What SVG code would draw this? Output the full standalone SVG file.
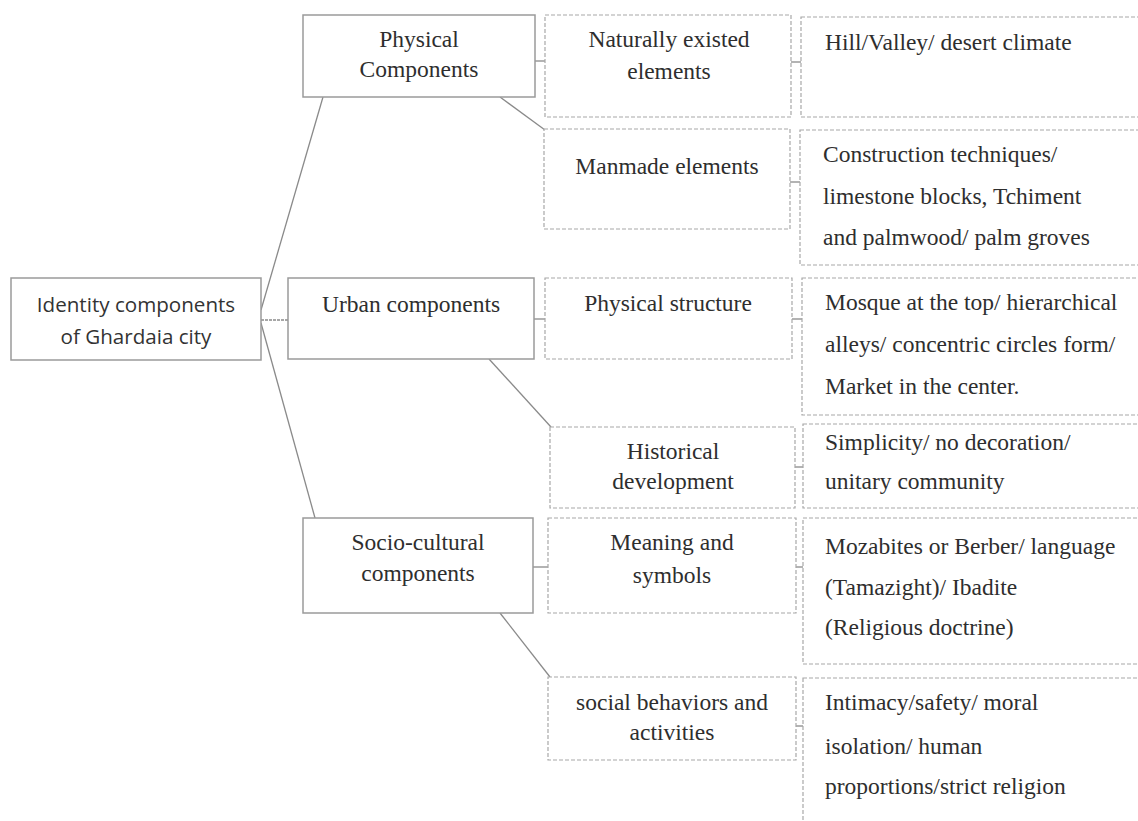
<svg xmlns="http://www.w3.org/2000/svg" width="1138" height="821" viewBox="0 0 1138 821">
<style>
.solid{fill:#fff;stroke:#9a9a9a;stroke-width:1.5}
.dash{fill:#fff;stroke:#a8a8a8;stroke-width:1.2;stroke-dasharray:4 2}
.conn line{stroke:#8a8a8a;stroke-width:1.3}
.serif{font-family:"Liberation Serif","Times New Roman",serif;font-size:23.5px;fill:#2e2e2e}
.sans{font-family:"Open Sans","Liberation Sans",sans-serif;font-size:20.6px;fill:#333}
.c{text-anchor:middle}
</style>
<rect width="1138" height="821" fill="#fff"/>
<g id="connectors" class="conn">
<line x1="261" y1="310" x2="323" y2="97"/>
<line x1="261" y1="320" x2="288" y2="320" stroke-dasharray="3 1"/>
<line x1="261" y1="323" x2="315" y2="518"/>
<line x1="535" y1="61" x2="545" y2="61"/>
<line x1="500" y1="97" x2="545" y2="130"/>
<line x1="791" y1="62" x2="801" y2="62"/>
<line x1="790" y1="182" x2="800" y2="182"/>
<line x1="534" y1="319" x2="545" y2="319"/>
<line x1="792" y1="319" x2="802" y2="319"/>
<line x1="489" y1="359" x2="551" y2="427"/>
<line x1="795" y1="467" x2="803" y2="467"/>
<line x1="533" y1="567" x2="548" y2="567"/>
<line x1="796" y1="567" x2="803" y2="567"/>
<line x1="500" y1="613" x2="550" y2="677"/>
<line x1="796" y1="726" x2="803" y2="726"/>
</g>
<g id="root">
<rect class="solid" x="11" y="278" width="250" height="82"/>
<text class="sans c" x="136" y="312">Identity components</text>
<text class="sans c" x="136" y="344">of Ghardaia city</text>
</g>
<g id="physical">
<rect class="solid" x="303" y="15" width="232" height="82"/>
<text class="serif c" x="419" y="47">Physical</text>
<text class="serif c" x="419" y="77">Components</text>
</g>
<g id="urban">
<rect class="solid" x="288" y="278" width="246" height="81"/>
<text class="serif c" x="411" y="312">Urban components</text>
</g>
<g id="socio">
<rect class="solid" x="303" y="518" width="230" height="95"/>
<text class="serif c" x="418" y="550">Socio-cultural</text>
<text class="serif c" x="418" y="581">components</text>
</g>
<g id="naturally">
<rect class="dash" x="545" y="15" width="246" height="102"/>
<text class="serif c" x="669" y="47">Naturally existed</text>
<text class="serif c" x="669" y="79">elements</text>
</g>
<g id="manmade">
<rect class="dash" x="544" y="129" width="246" height="100"/>
<text class="serif c" x="667" y="174">Manmade elements</text>
</g>
<g id="physical-structure">
<rect class="dash" x="545" y="278" width="247" height="81"/>
<text class="serif c" x="668" y="311">Physical structure</text>
</g>
<g id="historical">
<rect class="dash" x="550" y="427" width="245" height="81"/>
<text class="serif c" x="673" y="459">Historical</text>
<text class="serif c" x="673" y="489">development</text>
</g>
<g id="meaning">
<rect class="dash" x="548" y="518" width="248" height="95"/>
<text class="serif c" x="672" y="550">Meaning and</text>
<text class="serif c" x="672" y="583">symbols</text>
</g>
<g id="social">
<rect class="dash" x="548" y="677" width="248" height="83"/>
<text class="serif c" x="672" y="710">social behaviors and</text>
<text class="serif c" x="672" y="740">activities</text>
</g>
<g id="hill">
<rect class="dash" x="801" y="17" width="345" height="100"/>
<text class="serif" x="825" y="50">Hill/Valley/ desert climate</text>
</g>
<g id="construction">
<rect class="dash" x="800" y="130" width="346" height="135"/>
<text class="serif" x="823" y="162">Construction techniques/</text>
<text class="serif" x="823" y="204">limestone blocks, Tchiment</text>
<text class="serif" x="823" y="245">and palmwood/ palm groves</text>
</g>
<g id="mosque">
<rect class="dash" x="802" y="278" width="344" height="137"/>
<text class="serif" x="825" y="310">Mosque at the top/ hierarchical</text>
<text class="serif" x="825" y="352">alleys/ concentric circles form/</text>
<text class="serif" x="825" y="394">Market in the center.</text>
</g>
<g id="simplicity">
<rect class="dash" x="803" y="424" width="343" height="84"/>
<text class="serif" x="825" y="450">Simplicity/ no decoration/</text>
<text class="serif" x="825" y="489">unitary community</text>
</g>
<g id="mozabites">
<rect class="dash" x="803" y="518" width="343" height="146"/>
<text class="serif" x="825" y="554">Mozabites or Berber/ language</text>
<text class="serif" x="825" y="595">(Tamazight)/ Ibadite</text>
<text class="serif" x="825" y="635">(Religious doctrine)</text>
</g>
<g id="intimacy">
<rect class="dash" x="803" y="678" width="343" height="160"/>
<text class="serif" x="825" y="710">Intimacy/safety/ moral</text>
<text class="serif" x="825" y="754">isolation/ human</text>
<text class="serif" x="825" y="794">proportions/strict religion</text>
</g>
</svg>
